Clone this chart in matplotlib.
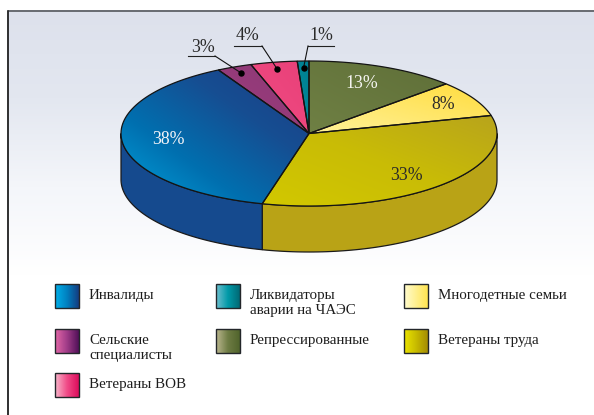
import numpy as np
import matplotlib
matplotlib.use('Agg')
import matplotlib.pyplot as plt
from matplotlib.colors import to_rgb
from matplotlib.patches import Polygon, Rectangle

plt.rcParams['font.family'] = ['Liberation Serif', 'DejaVu Serif']

# clockwise from the top of the pie
shares = [13, 8, 33, 38, 3, 4, 1]
share_labels = ['13%', '8%', '33%', '38%', '3%', '4%', '1%']

legend_rows = [
    ['Инвалиды', 'Ликвидаторы\nаварии на ЧАЭС', 'Многодетные семьи'],
    ['Сельские\nспециалисты', 'Репрессированные', 'Ветераны труда'],
    ['Ветераны ВОВ'],
]

# top face gradients: stops run from lower left to upper right
top_colors = [
    ['#6f8044', '#5f6f38'],
    ['#fff29a', '#ffdc3c'],
    ['#d2c800', '#c9bc06', '#b8a41c'],
    ['#00a4de', '#0070b0', '#164e92', '#1c3c84'],
    ['#a03c80', '#8a3a74'],
    ['#f24c84', '#e84078'],
    ['#008c9c', '#007f92'],
]
side_colors = {2: '#b9a316', 3: '#154a8e'}
label_colors = ['#f4f4f0', '#2a2a2a', '#2a2a2a', '#f4f4f8']
swatch_colors = [
    [['#00b0ea', '#0080c0', '#143c80'], ['#70c0d0', '#009aa8', '#006874'], ['#fffcd0', '#ffe450']],
    [['#e468a8', '#a03c88', '#501058'], ['#bcb890', '#6e7c44', '#50642c'], ['#ece400', '#c8bc00', '#a48c04']],
    [['#f8b8cc', '#f04c88', '#dc0c5c']],
]

cx, cy = 309, 133.5
rx, ry = 188, 72.5
depth = 46
W, H = 594, 415


def ramp(stops, t):
    c = np.array([to_rgb(s) for s in stops])
    pos = np.linspace(0, 1, len(stops))
    return np.stack([np.interp(t, pos, c[:, i]) for i in range(3)], axis=-1)


def fill_gradient(ax, verts, stops, angle=45, zorder=2):
    # linear gradient over the bbox of verts, clipped to the polygon
    x0, y0 = verts.min(axis=0)
    x1, y1 = verts.max(axis=0)
    xx, yy = np.meshgrid(np.linspace(0, 1, 120), np.linspace(0, 1, 120))
    a = np.radians(angle)
    t = xx * np.cos(a) + (1 - yy) * np.sin(a)
    t = (t - t.min()) / (t.max() - t.min())
    im = ax.imshow(ramp(stops, t), extent=(x0, x1, y1, y0), aspect='auto',
                   interpolation='bilinear', zorder=zorder)
    clip = Polygon(verts, closed=True, transform=ax.transData)
    im.set_clip_path(clip)


def ellipse_pts(a0, a1, n=80, dy=0):
    # angles are measured clockwise from the top of the pie
    a = np.radians(np.linspace(a0, a1, n))
    return np.column_stack([cx + rx * np.sin(a), cy - ry * np.cos(a) + dy])


fig = plt.figure(figsize=(W / 100, H / 100), dpi=100)
ax = fig.add_axes([0, 0, 1, 1])
ax.set_xlim(0, W)
ax.set_ylim(H, 0)
ax.axis('off')

# page background and frame
t = np.clip(np.linspace(0, 1, 300)[:, None], 0, 1)
ax.imshow(ramp(['#dde1ec', '#e3e7f0', '#f4f6fa', '#ffffff'], t), extent=(8, W, 275, 11),
          aspect='auto', zorder=0)
ax.set_xlim(0, W)
ax.set_ylim(H, 0)
ax.plot([8, 8, W], [H, 11, 11], color='#55585c', lw=1.2, zorder=1)
ax.plot([8, 8], [H, 11], color='#222222', lw=1.1, zorder=1)

edges = np.cumsum([0] + shares) / sum(shares) * 360

# side wall
for i, col in side_colors.items():
    a0 = max(edges[i], 90)
    a1 = min(edges[i + 1], 270)
    verts = np.vstack([ellipse_pts(a0, a1), ellipse_pts(a0, a1, dy=depth)[::-1]])
    ax.add_patch(Polygon(verts, closed=True, fc=col, ec='#1a1a1a', lw=0.9, zorder=2))

# top face
for i, s in enumerate(shares):
    verts = np.vstack([[cx, cy], ellipse_pts(edges[i], edges[i + 1])])
    fill_gradient(ax, verts, top_colors[i], zorder=3)
    ax.add_patch(Polygon(verts, closed=True, fc='none', ec='#141414', lw=0.9, zorder=4))

# labels inside the big slices
inside_xy = [(362, 83), (443, 104), (406, 175), (168, 139)]
for i in range(4):
    ax.text(*inside_xy[i], share_labels[i], color=label_colors[i], fontsize=12.8,
            ha='center', va='center', zorder=5)

# leaders for the small slices
leaders = {4: (188, 215, 56, (203, 47)), 5: (234, 262, 46, (248, 36)), 6: (308, 334, 46, (321, 35))}
for i, (xa, xb, yl, txt) in leaders.items():
    mid = np.radians((edges[i] + edges[i + 1]) / 2)
    dx = cx + 0.91 * rx * np.sin(mid)
    dy = cy - 0.91 * ry * np.cos(mid)
    elbow = xb if i != 6 else xa
    ax.plot([xa, xb], [yl, yl], color='#222222', lw=0.8, zorder=5)
    ax.plot([elbow, dx], [yl, dy], color='#111111', lw=0.8, zorder=5)
    ax.plot(dx, dy, 'o', color='black', ms=3.6, zorder=6)
    ax.text(*txt, share_labels[i], color='#2a2a2a', fontsize=12.8, ha='center', va='center', zorder=5)

# legend
col_x = [55, 216, 404]
text_x = [89, 250, 438]
row_y = [284, 329, 373]
for r, row in enumerate(legend_rows):
    for c, name in enumerate(row):
        x0, y0 = col_x[c], row_y[r]
        verts = np.array([[x0, y0], [x0 + 24, y0], [x0 + 24, y0 + 24], [x0, y0 + 24]])
        fill_gradient(ax, verts, swatch_colors[r][c], angle=0, zorder=3)
        ax.add_patch(Rectangle((x0, y0), 24, 24, fc='none', ec='#23262a', lw=1.0, zorder=4))
        ax.text(text_x[c], y0 + 5, name, color='#1c1c1c', fontsize=10.8, ha='left', va='top',
                linespacing=1.2, zorder=5)

ax.set_xlim(0, W)
ax.set_ylim(H, 0)
fig.savefig('out.png', dpi=100, facecolor='white')
